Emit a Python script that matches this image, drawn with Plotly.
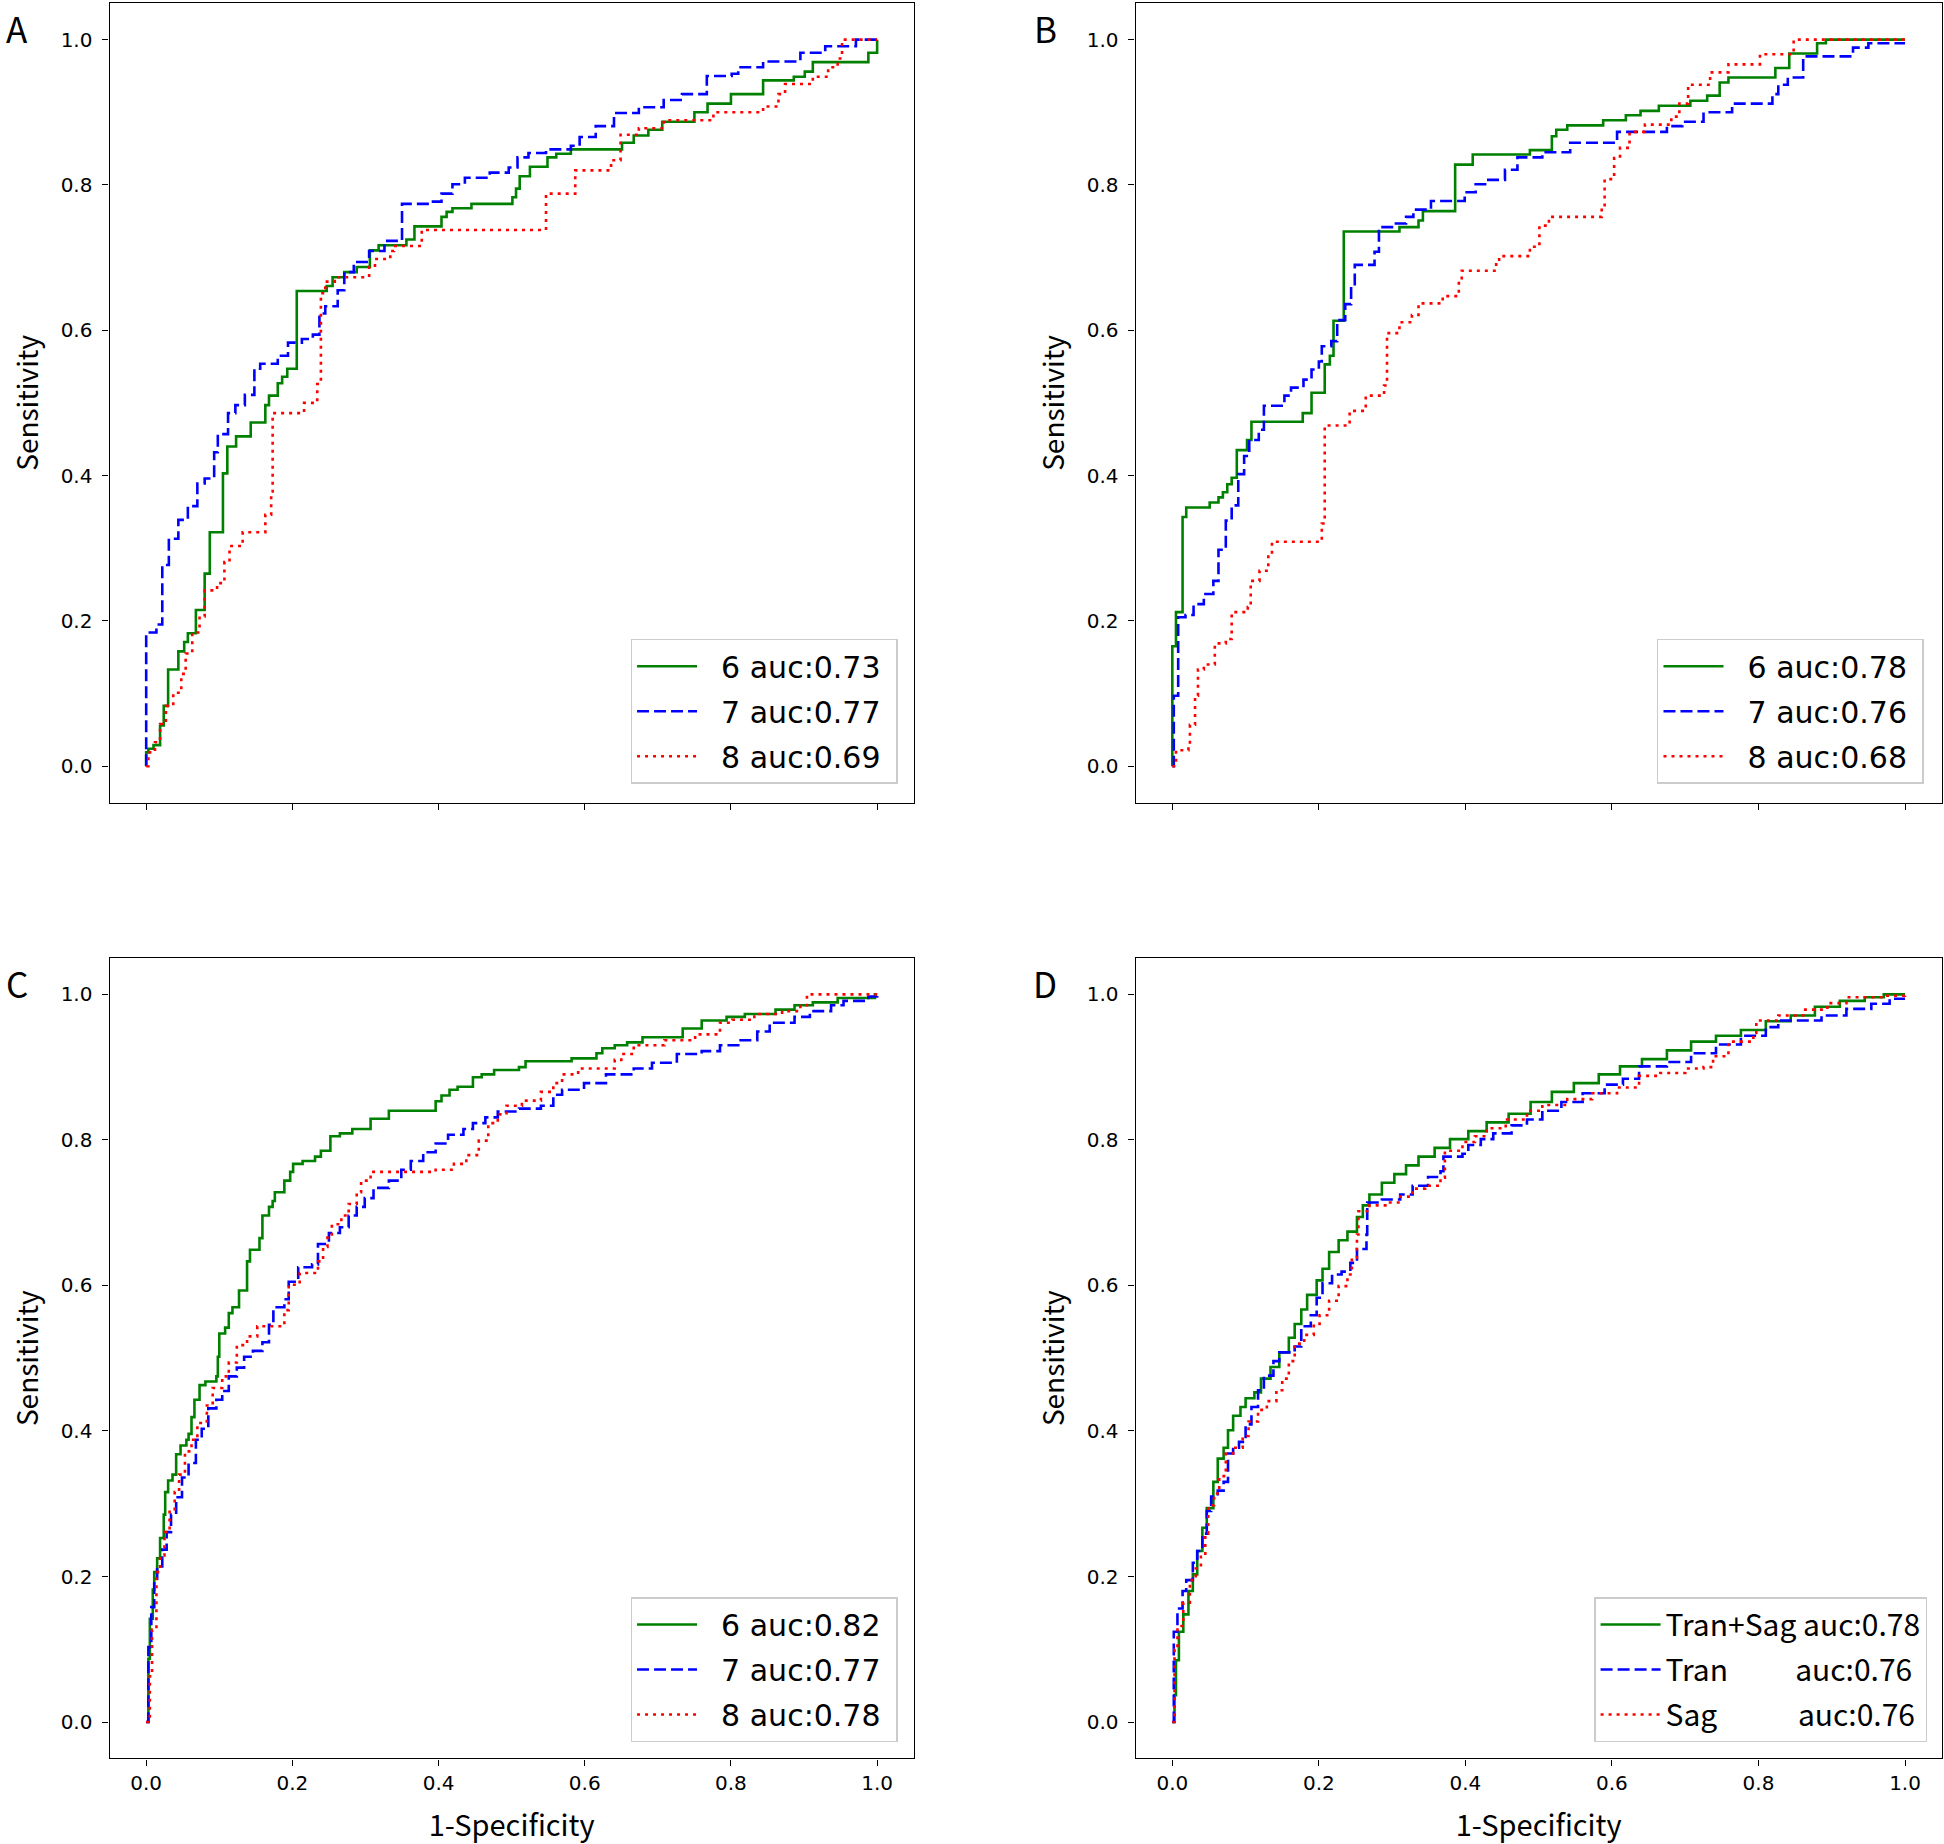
import plotly.graph_objects as go

# ---------------- data (fpr, tpr) ----------------
# Panel A
A6_fpr = [0, 0, 0.003, 0.010, 0.019, 0.024, 0.030, 0.044, 0.052, 0.057, 0.068, 0.080, 0.087, 0.105, 0.111, 0.123, 0.143, 0.163, 0.168, 0.180, 0.186, 0.193, 0.206, 0.247, 0.255, 0.271, 0.288, 0.306, 0.318, 0.356, 0.367, 0.404, 0.411, 0.419, 0.445, 0.501, 0.506, 0.511, 0.525, 0.549, 0.561, 0.581, 0.651, 0.667, 0.687, 0.706, 0.750, 0.768, 0.800, 0.844, 0.886, 0.901, 0.912, 0.988, 1.0]
A6_tpr = [0, 0.019, 0.024, 0.029, 0.056, 0.083, 0.133, 0.158, 0.171, 0.183, 0.215, 0.265, 0.322, 0.403, 0.440, 0.454, 0.473, 0.497, 0.510, 0.527, 0.536, 0.547, 0.654, 0.661, 0.673, 0.680, 0.687, 0.710, 0.717, 0.725, 0.743, 0.756, 0.763, 0.768, 0.774, 0.783, 0.795, 0.812, 0.825, 0.838, 0.843, 0.849, 0.858, 0.868, 0.876, 0.887, 0.900, 0.912, 0.925, 0.944, 0.949, 0.956, 0.969, 0.982, 1.0]
A7_fpr = [0, 0, 0.014, 0.022, 0.031, 0.044, 0.057, 0.070, 0.080, 0.093, 0.098, 0.112, 0.122, 0.135, 0.148, 0.156, 0.180, 0.194, 0.213, 0.228, 0.237, 0.245, 0.262, 0.271, 0.284, 0.305, 0.326, 0.350, 0.385, 0.404, 0.419, 0.436, 0.470, 0.496, 0.508, 0.523, 0.547, 0.581, 0.593, 0.615, 0.640, 0.674, 0.708, 0.733, 0.767, 0.801, 0.810, 0.844, 0.895, 0.929, 0.971, 1.0]
A7_tpr = [0, 0.184, 0.195, 0.277, 0.313, 0.339, 0.358, 0.389, 0.396, 0.432, 0.457, 0.486, 0.497, 0.511, 0.547, 0.554, 0.565, 0.583, 0.588, 0.594, 0.623, 0.633, 0.655, 0.680, 0.694, 0.709, 0.723, 0.774, 0.777, 0.788, 0.801, 0.810, 0.817, 0.824, 0.838, 0.844, 0.849, 0.854, 0.866, 0.881, 0.899, 0.907, 0.917, 0.925, 0.950, 0.953, 0.962, 0.970, 0.982, 0.991, 1.0, 1.0]
A8_fpr = [0, 0.003, 0.012, 0.019, 0.027, 0.037, 0.048, 0.054, 0.063, 0.073, 0.080, 0.097, 0.107, 0.114, 0.132, 0.163, 0.171, 0.173, 0.216, 0.234, 0.239, 0.245, 0.258, 0.305, 0.313, 0.334, 0.339, 0.377, 0.547, 0.587, 0.636, 0.649, 0.674, 0.708, 0.776, 0.844, 0.865, 0.874, 0.912, 0.933, 0.946, 0.952, 1.0]
A8_tpr = [0, 0.019, 0.033, 0.058, 0.083, 0.101, 0.127, 0.155, 0.184, 0.206, 0.242, 0.252, 0.281, 0.303, 0.322, 0.346, 0.378, 0.486, 0.500, 0.526, 0.651, 0.667, 0.673, 0.687, 0.698, 0.709, 0.716, 0.738, 0.788, 0.820, 0.834, 0.869, 0.878, 0.889, 0.900, 0.908, 0.925, 0.939, 0.949, 0.962, 0.974, 1.0, 1.0]

# Panel B
B6_fpr = [0, 0, 0.005, 0.014, 0.019, 0.051, 0.063, 0.069, 0.075, 0.081, 0.088, 0.102, 0.108, 0.178, 0.190, 0.208, 0.215, 0.220, 0.234, 0.310, 0.336, 0.342, 0.386, 0.410, 0.488, 0.518, 0.524, 0.539, 0.588, 0.619, 0.639, 0.664, 0.707, 0.730, 0.747, 0.759, 0.823, 0.842, 0.880, 0.892, 1.0]
B6_tpr = [0, 0.165, 0.212, 0.343, 0.356, 0.363, 0.370, 0.377, 0.388, 0.397, 0.435, 0.449, 0.474, 0.486, 0.514, 0.553, 0.565, 0.613, 0.736, 0.742, 0.751, 0.764, 0.828, 0.842, 0.848, 0.867, 0.876, 0.882, 0.889, 0.896, 0.902, 0.909, 0.916, 0.923, 0.941, 0.948, 0.961, 0.981, 0.995, 1.0, 1.0]
B7_fpr = [0, 0.002, 0.008, 0.018, 0.029, 0.043, 0.056, 0.063, 0.073, 0.081, 0.090, 0.098, 0.105, 0.118, 0.125, 0.153, 0.162, 0.179, 0.190, 0.200, 0.204, 0.217, 0.225, 0.236, 0.244, 0.249, 0.276, 0.282, 0.302, 0.319, 0.329, 0.353, 0.399, 0.414, 0.429, 0.454, 0.471, 0.505, 0.543, 0.607, 0.675, 0.696, 0.725, 0.764, 0.819, 0.827, 0.840, 0.861, 0.929, 0.950, 1.0]
B7_tpr = [0, 0.097, 0.205, 0.208, 0.223, 0.237, 0.255, 0.298, 0.338, 0.359, 0.402, 0.427, 0.449, 0.463, 0.496, 0.510, 0.521, 0.532, 0.546, 0.557, 0.578, 0.585, 0.614, 0.636, 0.661, 0.690, 0.708, 0.742, 0.747, 0.756, 0.766, 0.778, 0.790, 0.801, 0.807, 0.821, 0.838, 0.845, 0.858, 0.873, 0.881, 0.887, 0.900, 0.912, 0.925, 0.938, 0.948, 0.977, 0.989, 0.995, 0.995]
B8_fpr = [0, 0.005, 0.022, 0.024, 0.031, 0.035, 0.043, 0.058, 0.073, 0.081, 0.103, 0.107, 0.119, 0.131, 0.136, 0.204, 0.208, 0.242, 0.264, 0.289, 0.293, 0.310, 0.327, 0.336, 0.369, 0.391, 0.395, 0.442, 0.446, 0.488, 0.501, 0.514, 0.586, 0.590, 0.603, 0.611, 0.624, 0.645, 0.681, 0.692, 0.704, 0.734, 0.759, 0.802, 0.848, 1.0]
B8_tpr = [0, 0.022, 0.029, 0.057, 0.097, 0.133, 0.140, 0.169, 0.175, 0.212, 0.219, 0.255, 0.269, 0.291, 0.309, 0.334, 0.469, 0.489, 0.510, 0.524, 0.596, 0.611, 0.621, 0.637, 0.647, 0.665, 0.682, 0.697, 0.702, 0.715, 0.744, 0.756, 0.772, 0.808, 0.837, 0.851, 0.873, 0.883, 0.894, 0.912, 0.938, 0.955, 0.966, 0.980, 1.0, 1.0]

# Panel C
C6_fpr = [0, 0.003, 0.005, 0.009, 0.011, 0.015, 0.019, 0.024, 0.026, 0.030, 0.036, 0.041, 0.047, 0.055, 0.058, 0.062, 0.066, 0.073, 0.081, 0.096, 0.098, 0.100, 0.108, 0.113, 0.118, 0.127, 0.138, 0.142, 0.155, 0.159, 0.168, 0.173, 0.176, 0.189, 0.197, 0.201, 0.214, 0.231, 0.239, 0.252, 0.265, 0.282, 0.307, 0.332, 0.396, 0.404, 0.415, 0.426, 0.447, 0.459, 0.476, 0.510, 0.519, 0.582, 0.616, 0.624, 0.641, 0.658, 0.679, 0.734, 0.760, 0.794, 0.819, 0.861, 0.887, 0.912, 0.946, 0.997, 1.0]
C6_tpr = [0, 0.087, 0.142, 0.182, 0.206, 0.225, 0.253, 0.285, 0.316, 0.332, 0.340, 0.368, 0.380, 0.388, 0.396, 0.419, 0.443, 0.463, 0.468, 0.475, 0.502, 0.534, 0.542, 0.562, 0.570, 0.593, 0.633, 0.649, 0.665, 0.696, 0.708, 0.716, 0.728, 0.744, 0.756, 0.767, 0.771, 0.777, 0.785, 0.805, 0.809, 0.815, 0.829, 0.840, 0.853, 0.861, 0.869, 0.873, 0.886, 0.890, 0.896, 0.900, 0.908, 0.912, 0.919, 0.926, 0.930, 0.934, 0.941, 0.953, 0.964, 0.969, 0.973, 0.979, 0.985, 0.989, 0.995, 1.0, 1.0]
C7_fpr = [0, 0.003, 0.007, 0.011, 0.015, 0.022, 0.028, 0.034, 0.041, 0.049, 0.058, 0.068, 0.076, 0.085, 0.096, 0.104, 0.113, 0.124, 0.134, 0.146, 0.159, 0.168, 0.174, 0.189, 0.195, 0.208, 0.227, 0.235, 0.250, 0.265, 0.277, 0.288, 0.299, 0.311, 0.332, 0.349, 0.362, 0.379, 0.396, 0.413, 0.434, 0.447, 0.464, 0.481, 0.510, 0.540, 0.557, 0.569, 0.599, 0.629, 0.667, 0.692, 0.726, 0.760, 0.785, 0.810, 0.836, 0.853, 0.887, 0.908, 0.937, 0.954, 0.988, 1.0]
C7_tpr = [0, 0.103, 0.158, 0.194, 0.214, 0.237, 0.261, 0.285, 0.309, 0.336, 0.356, 0.388, 0.403, 0.431, 0.443, 0.455, 0.475, 0.487, 0.502, 0.510, 0.522, 0.546, 0.570, 0.581, 0.605, 0.625, 0.629, 0.657, 0.672, 0.680, 0.696, 0.708, 0.720, 0.734, 0.744, 0.759, 0.771, 0.783, 0.795, 0.807, 0.815, 0.823, 0.831, 0.839, 0.843, 0.847, 0.862, 0.869, 0.878, 0.890, 0.898, 0.906, 0.918, 0.922, 0.930, 0.937, 0.949, 0.961, 0.969, 0.977, 0.985, 0.991, 0.997, 1.0]
C8_fpr = [0, 0.005, 0.008, 0.014, 0.019, 0.025, 0.032, 0.039, 0.045, 0.053, 0.062, 0.070, 0.083, 0.091, 0.104, 0.113, 0.124, 0.138, 0.152, 0.189, 0.195, 0.210, 0.235, 0.242, 0.248, 0.254, 0.267, 0.277, 0.288, 0.294, 0.307, 0.396, 0.421, 0.438, 0.455, 0.468, 0.481, 0.493, 0.514, 0.540, 0.557, 0.569, 0.591, 0.641, 0.650, 0.667, 0.709, 0.751, 0.785, 0.802, 0.832, 0.870, 0.895, 0.904, 1.0]
C8_tpr = [0, 0.063, 0.127, 0.206, 0.229, 0.261, 0.289, 0.316, 0.340, 0.372, 0.388, 0.411, 0.435, 0.459, 0.475, 0.494, 0.518, 0.530, 0.544, 0.566, 0.601, 0.617, 0.633, 0.653, 0.668, 0.684, 0.696, 0.712, 0.728, 0.744, 0.756, 0.759, 0.767, 0.779, 0.799, 0.823, 0.835, 0.847, 0.854, 0.866, 0.878, 0.890, 0.898, 0.910, 0.918, 0.930, 0.937, 0.945, 0.961, 0.965, 0.973, 0.977, 0.985, 1.0, 1.0]

# Panel D
D_ts_fpr = [0, 0.003, 0.005, 0.009, 0.015, 0.022, 0.028, 0.034, 0.041, 0.047, 0.056, 0.062, 0.070, 0.076, 0.083, 0.093, 0.100, 0.112, 0.121, 0.134, 0.146, 0.159, 0.167, 0.176, 0.184, 0.197, 0.205, 0.214, 0.227, 0.239, 0.252, 0.260, 0.269, 0.286, 0.303, 0.319, 0.336, 0.358, 0.379, 0.404, 0.429, 0.459, 0.489, 0.518, 0.548, 0.582, 0.611, 0.641, 0.675, 0.708, 0.742, 0.776, 0.810, 0.844, 0.877, 0.911, 0.945, 0.971, 1.0]
D_ts_tpr = [0, 0.037, 0.085, 0.124, 0.148, 0.180, 0.203, 0.235, 0.267, 0.294, 0.330, 0.362, 0.377, 0.401, 0.421, 0.433, 0.445, 0.453, 0.472, 0.488, 0.508, 0.528, 0.547, 0.567, 0.587, 0.607, 0.623, 0.646, 0.662, 0.674, 0.694, 0.710, 0.725, 0.741, 0.753, 0.765, 0.777, 0.789, 0.801, 0.812, 0.824, 0.836, 0.852, 0.866, 0.878, 0.890, 0.901, 0.911, 0.923, 0.935, 0.943, 0.951, 0.963, 0.971, 0.983, 0.991, 0.996, 1.0, 1.0]
D_tr_fpr = [0, 0.002, 0.007, 0.014, 0.019, 0.028, 0.034, 0.041, 0.047, 0.053, 0.062, 0.070, 0.076, 0.083, 0.091, 0.100, 0.108, 0.117, 0.125, 0.138, 0.146, 0.167, 0.176, 0.189, 0.197, 0.205, 0.218, 0.231, 0.243, 0.252, 0.265, 0.266, 0.286, 0.311, 0.328, 0.349, 0.366, 0.370, 0.396, 0.404, 0.421, 0.438, 0.463, 0.484, 0.505, 0.531, 0.560, 0.590, 0.615, 0.637, 0.675, 0.708, 0.742, 0.776, 0.810, 0.827, 0.886, 0.920, 0.954, 0.979, 1.0]
D_tr_tpr = [0, 0.124, 0.156, 0.180, 0.195, 0.219, 0.235, 0.259, 0.290, 0.310, 0.318, 0.330, 0.369, 0.377, 0.385, 0.409, 0.433, 0.456, 0.476, 0.496, 0.508, 0.516, 0.544, 0.559, 0.583, 0.603, 0.615, 0.619, 0.631, 0.650, 0.670, 0.714, 0.718, 0.725, 0.737, 0.749, 0.757, 0.777, 0.781, 0.793, 0.801, 0.809, 0.820, 0.828, 0.840, 0.852, 0.864, 0.876, 0.884, 0.901, 0.907, 0.919, 0.931, 0.943, 0.955, 0.964, 0.971, 0.980, 0.987, 0.994, 0.994]
D_sa_fpr = [0, 0.003, 0.007, 0.015, 0.024, 0.032, 0.039, 0.045, 0.049, 0.057, 0.064, 0.073, 0.083, 0.096, 0.104, 0.117, 0.129, 0.142, 0.150, 0.159, 0.167, 0.180, 0.193, 0.201, 0.214, 0.227, 0.239, 0.245, 0.252, 0.254, 0.269, 0.294, 0.311, 0.328, 0.345, 0.366, 0.372, 0.396, 0.413, 0.429, 0.455, 0.484, 0.505, 0.539, 0.573, 0.607, 0.637, 0.666, 0.700, 0.725, 0.738, 0.759, 0.793, 0.797, 0.827, 0.861, 0.894, 0.920, 0.970, 1.0]
D_sa_tpr = [0, 0.100, 0.132, 0.164, 0.195, 0.211, 0.227, 0.259, 0.298, 0.314, 0.338, 0.369, 0.377, 0.393, 0.413, 0.429, 0.441, 0.456, 0.472, 0.496, 0.520, 0.532, 0.547, 0.559, 0.579, 0.599, 0.615, 0.638, 0.670, 0.702, 0.710, 0.714, 0.722, 0.733, 0.737, 0.748, 0.785, 0.797, 0.805, 0.816, 0.828, 0.840, 0.848, 0.856, 0.864, 0.872, 0.888, 0.892, 0.898, 0.900, 0.915, 0.935, 0.947, 0.964, 0.971, 0.979, 0.988, 0.996, 0.998, 1.0]

# legend labels
NB = "\u00a0"
A_names = ["6 auc:0.73", "7 auc:0.77", "8 auc:0.69"]
B_names = ["6 auc:0.78", "7 auc:0.76", "8 auc:0.68"]
C_names = ["6 auc:0.82", "7 auc:0.77", "8 auc:0.78"]
D_names = ["Tran+Sag auc:0.78", "Tran" + NB * 10 + "auc:0.76", "Sag" + NB * 12 + "auc:0.76"]

panel_letters = ["A", "B", "C", "D"]
tick_vals = [0.0, 0.2, 0.4, 0.6, 0.8, 1.0]
tick_text = ["0.0", "0.2", "0.4", "0.6", "0.8", "1.0"]

# ---------------- styling ----------------
W, H = 1944, 1844
colors = ["#008000", "#0000ff", "#ff0000"]
dashes = ["solid", "12px,5px", "3px,5px"]
TICK_FONT = dict(family="DejaVu Sans", size=20, color="black")
YTITLE_FONT = dict(family="Noto Sans CJK JP", size=28, color="black")
XTITLE_FONT = dict(family="Noto Sans CJK JP", size=29, color="black")

xdom = [[0.0564, 0.4700], [0.5842, 0.9988], [0.0564, 0.4700], [0.5842, 0.9988]]
ydom = [[0.5648, 0.9982], [0.5648, 0.9982], [0.0464, 0.4805], [0.0464, 0.4805]]

panels = [
    (A_names, [(A6_fpr, A6_tpr), (A7_fpr, A7_tpr), (A8_fpr, A8_tpr)]),
    (B_names, [(B6_fpr, B6_tpr), (B7_fpr, B7_tpr), (B8_fpr, B8_tpr)]),
    (C_names, [(C6_fpr, C6_tpr), (C7_fpr, C7_tpr), (C8_fpr, C8_tpr)]),
    (D_names, [(D_ts_fpr, D_ts_tpr), (D_tr_fpr, D_tr_tpr), (D_sa_fpr, D_sa_tpr)]),
]

fig = go.Figure()
layout = dict(
    width=W, height=H, autosize=False,
    margin=dict(l=0, r=0, t=0, b=0),
    paper_bgcolor="white", plot_bgcolor="white",
    showlegend=True,
)

legend_pos = [(0.4617, 0.5750), (0.9897, 0.5750), (0.4617, 0.0553), (0.9913, 0.0553)]

for i, (names, curves) in enumerate(panels):
    sfx = "" if i == 0 else str(i + 1)
    leg = "legend" + sfx
    for j, (xs, ys) in enumerate(curves):
        label = names[j] if i == 3 else NB * 2 + names[j] + NB
        fig.add_trace(go.Scatter(
            x=xs, y=ys, mode="lines", name=label,
            line=dict(color=colors[j], width=2.6, dash=dashes[j], shape="hv"),
            xaxis="x" + sfx, yaxis="y" + sfx, legend=leg,
            legendgroup="p%d_%d" % (i, j),
        ))
    bottom = i >= 2
    layout["xaxis" + sfx] = dict(
        domain=xdom[i], anchor="y" + sfx, range=[-0.05, 1.05],
        showline=True, mirror=True, linecolor="black", linewidth=1.4,
        ticks="outside", ticklen=6, tickwidth=1.4, tickcolor="black",
        tickvals=tick_vals, ticktext=tick_text, showticklabels=bottom,
        tickfont=TICK_FONT, showgrid=False, zeroline=False,
        title=dict(text="1-Specificity" if bottom else "", font=XTITLE_FONT, standoff=22),
    )
    layout["yaxis" + sfx] = dict(
        domain=ydom[i], anchor="x" + sfx, range=[-0.05, 1.05],
        showline=True, mirror=True, linecolor="black", linewidth=1.4,
        ticks="outside", ticklen=6, tickwidth=1.4, tickcolor="black",
        tickvals=tick_vals, ticktext=tick_text, ticklabelstandoff=6,
        tickfont=TICK_FONT, showgrid=False, zeroline=False,
        title=dict(text="Sensitivity", font=YTITLE_FONT, standoff=13),
    )
    lx, ly = legend_pos[i]
    layout[leg] = dict(
        x=lx, y=ly, xanchor="right", yanchor="bottom", xref="paper", yref="paper",
        bgcolor="rgba(255,255,255,0.8)", bordercolor="#cccccc", borderwidth=1.5,
        font=dict(family="Noto Sans CJK JP" if i == 3 else "DejaVu Sans", size=30, color="black"),
        itemwidth=60, traceorder="grouped", tracegroupgap=3,
    )

annots = []
# (center x, top y) of each panel letter's text box, in pixels
letter_pos = [(17, 0), (1045, 0), (17, 955), (1045, 955)]
for k, letter in enumerate(panel_letters):
    px, py = letter_pos[k]
    annots.append(dict(
        text=letter, x=px / W, y=1 - py / H, xref="paper", yref="paper",
        xanchor="center", yanchor="top", showarrow=False,
        font=dict(family="Noto Sans CJK JP", size=35, color="black"),
    ))
layout["annotations"] = annots

fig.update_layout(**layout)
fig.write_html("out.html", config={"displayModeBar": False},
               post_script="document.body.style.margin='0px';")
